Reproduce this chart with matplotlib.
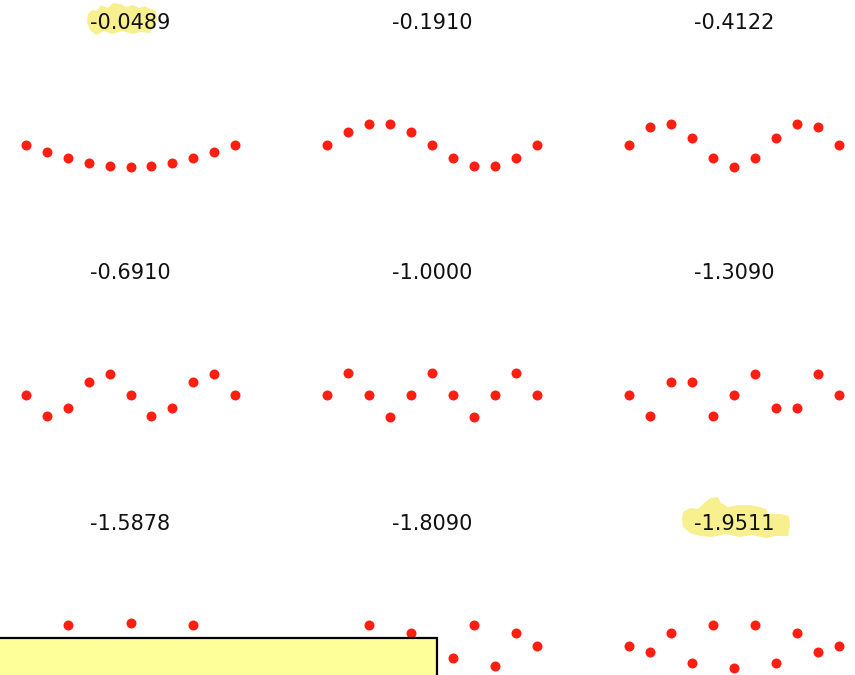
import matplotlib
matplotlib.use("Agg")
import matplotlib.pyplot as plt
from matplotlib.patches import Polygon, Rectangle

# Eigenvalues of the discrete second-difference operator, one per mode
eigenvalues = [-0.0489, -0.1910, -0.4122,
               -0.6910, -1.0000, -1.3090,
               -1.5878, -1.8090, -1.9511]

# Grid points
grid = list(range(11))

# Normalised eigenvector for each mode, sampled on the grid
mode_1 = [0, -0.1382, -0.2629, -0.3618, -0.4253, -0.4472, -0.4253, -0.3618, -0.2629, -0.1382, 0]
mode_2 = [0, 0.2629, 0.4253, 0.4253, 0.2629, 0, -0.2629, -0.4253, -0.4253, -0.2629, 0]
mode_3 = [0, 0.3618, 0.4253, 0.1382, -0.2629, -0.4472, -0.2629, 0.1382, 0.4253, 0.3618, 0]
mode_4 = [0, -0.4253, -0.2629, 0.2629, 0.4253, 0, -0.4253, -0.2629, 0.2629, 0.4253, 0]
mode_5 = [0, 0.4472, 0, -0.4472, 0, 0.4472, 0, -0.4472, 0, 0.4472, 0]
mode_6 = [0, -0.4253, 0.2629, 0.2629, -0.4253, 0, 0.4253, -0.2629, -0.2629, 0.4253, 0]
mode_7 = [0, -0.3618, 0.4253, -0.1382, -0.2629, 0.4472, -0.2629, -0.1382, 0.4253, -0.3618, 0]
mode_8 = [0, -0.2629, 0.4253, -0.4253, 0.2629, 0, -0.2629, 0.4253, -0.4253, 0.2629, 0]
mode_9 = [0, -0.1382, 0.2629, -0.3618, 0.4253, -0.4472, 0.4253, -0.3618, 0.2629, -0.1382, 0]

modes = [mode_1, mode_2, mode_3, mode_4, mode_5, mode_6, mode_7, mode_8, mode_9]

W, H = 855, 675
fig = plt.figure(figsize=(W / 100, H / 100), dpi=100)
fig.patch.set_facecolor("white")


def px_to_fig(x, y):
    return x / W, 1 - y / H


col_centers = [130.5, 432, 734]
row_centers = [145, 395, 645.5]
ax_w, ax_h = 230, 216
px_per_unit = 49.2
half_range = (ax_h / 2) / px_per_unit

for i, (lam, vec) in enumerate(zip(eigenvalues, modes)):
    r, c = divmod(i, 3)
    cx, cy = col_centers[c], row_centers[r]
    left, bottom = px_to_fig(cx - ax_w / 2, cy + ax_h / 2)
    ax = fig.add_axes([left, bottom, ax_w / W, ax_h / H])
    ax.plot(grid, vec, "o", color="#ff1f12", markersize=7.2, markeredgewidth=0)
    ax.set_xlim(-0.5, 10.5)
    ax.set_ylim(-half_range, half_range)
    ax.set_title(f"{lam:.4f}", fontsize=15, pad=5.5, color="#111111")
    ax.set_facecolor("none")
    ax.axis("off")

# Highlighter strokes behind two of the titles
stroke_a = [(88, 14), (92, 10), (97, 11), (101, 5), (108, 8), (113, 3), (121, 4),
            (126, 7), (133, 5), (139, 8), (145, 6), (150, 9), (156, 11), (157, 20),
            (153, 26), (150, 33), (140, 32), (133, 34), (122, 31), (112, 34),
            (104, 31), (96, 35), (90, 30), (87, 22)]
stroke_b = [(683, 512), (690, 508), (698, 509), (704, 503), (711, 498), (718, 497),
            (721, 503), (728, 507), (738, 505), (750, 505), (760, 507), (766, 509),
            (768, 514), (780, 514), (789, 516), (790, 526), (788, 536), (776, 536),
            (766, 538), (752, 535), (740, 537), (726, 534), (712, 537), (700, 536),
            (690, 533), (683, 527), (682, 519)]
for stroke in (stroke_a, stroke_b):
    pts = [px_to_fig(x, y) for x, y in stroke]
    fig.add_artist(Polygon(pts, closed=True, transform=fig.transFigure,
                           facecolor="#f8f08e", edgecolor="none", zorder=-1))

# Yellow note box overlapping the bottom-left panels
bx0, by0 = px_to_fig(-10, 720)
bx1, by1 = px_to_fig(437, 637.5)
fig.add_artist(Rectangle((bx0, by0), bx1 - bx0, by1 - by0, transform=fig.transFigure,
                         facecolor="#ffff99", edgecolor="black", linewidth=1.6,
                         zorder=5))

fig.savefig("out.png", dpi=100)
